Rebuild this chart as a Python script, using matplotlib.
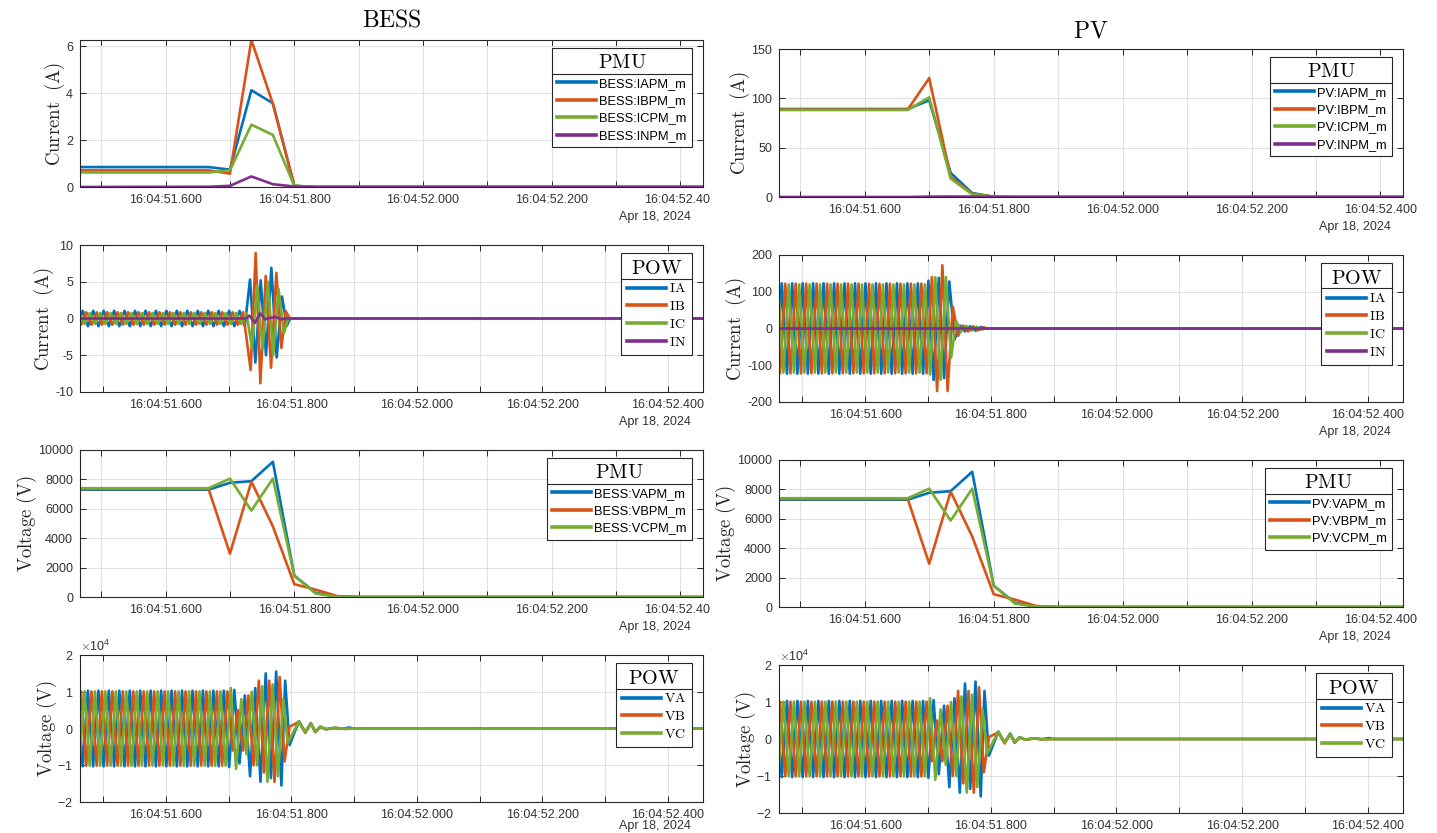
import numpy as np
import matplotlib
matplotlib.use("Agg")
import matplotlib.pyplot as plt
from matplotlib.lines import Line2D
from matplotlib.transforms import Bbox, TransformedBbox

plt.rcParams['font.family'] = ['Liberation Sans', 'DejaVu Sans']
plt.rcParams['mathtext.fontset'] = 'cm'
plt.rcParams['axes.unicode_minus'] = False

# ---------------------------------------------------------------- data
X_TICKS = [51.5, 51.6, 51.7, 51.8, 51.9, 52.0, 52.1, 52.2, 52.3, 52.4]
X_TICK_LABELS = ['', '16:04:51.600', '', '16:04:51.800', '', '16:04:52.000',
                 '', '16:04:52.200', '', '16:04:52.400']
DATE_LABEL = 'Apr 18, 2024'
XLIM_PMU = (51.467, 52.435)   # seconds after 16:04
XLIM_POW = (51.463, 52.456)
HALF_CYCLE = 1.0 / 120.0      # 60 Hz system

# PMU reporting instants (s after 16:04)
PMU_T = [51.4667, 51.6667, 51.7, 51.7333, 51.7667, 51.8, 51.8333, 51.8667, 51.9, 52.5]

BESS_IAPM = [0.85, 0.85, 0.74, 4.13, 3.57, 0.05, 0, 0, 0, 0]
BESS_IBPM = [0.71, 0.71, 0.57, 6.27, 3.55, 0.05, 0, 0, 0, 0]
BESS_ICPM = [0.62, 0.62, 0.71, 2.66, 2.22, 0.05, 0, 0, 0, 0]
BESS_INPM = [0.0, 0.01, 0.05, 0.45, 0.12, 0.02, 0, 0, 0, 0]

PV_IAPM = [89.2, 89.2, 98.0, 24.4, 4.0, 0.3, 0, 0, 0, 0]
PV_IBPM = [88.6, 88.6, 120.5, 20.4, 3.4, 0.3, 0, 0, 0, 0]
PV_ICPM = [88.2, 88.2, 101.0, 18.7, 2.7, 0.3, 0, 0, 0, 0]
PV_INPM = [0.0, 0.0, 0.4, 0.5, 0.4, 0.1, 0, 0, 0, 0]

BESS_VAPM = [7300, 7300, 7770, 7880, 9200, 1450, 280, 30, 0, 0]
BESS_VBPM = [7350, 7350, 2950, 7850, 4800, 870, 500, 60, 0, 0]
BESS_VCPM = [7400, 7400, 8050, 5880, 8050, 1450, 230, 20, 0, 0]
PV_VAPM = [7300, 7300, 7770, 7880, 9200, 1450, 280, 30, 0, 0]
PV_VBPM = [7350, 7350, 2950, 7850, 4800, 870, 500, 60, 0, 0]
PV_VCPM = [7400, 7400, 8050, 5880, 8050, 1450, 230, 20, 0, 0]

# point-on-wave: (steady peak amplitude, time of last steady peak,
#                 fault peak times, fault peak values)
BESS_IA = (1.05, 51.7257,
           [51.734, 51.7425, 51.751, 51.7595, 51.768, 51.7765, 51.785, 51.7925, 51.798],
           [5.3, -6.0, 5.2, -5.0, 6.9, -5.3, 3.0, -1.0, 0.0])
BESS_IB = (0.85, 51.7230,
           [51.735, 51.743, 51.7505, 51.759, 51.7675, 51.776, 51.784, 51.791, 51.797],
           [-7.0, 8.9, -8.8, 5.8, -6.7, 6.2, -4.0, 1.0, 0.0])
BESS_IC = (0.75, 51.7285,
           [51.737, 51.7455, 51.754, 51.7625, 51.771, 51.7795, 51.788, 51.795],
           [-4.0, 4.5, -4.2, 5.0, -5.0, 4.0, -2.0, 0.0])
BESS_IN_T = [51.40, 51.728, 51.733, 51.742, 51.750, 51.758, 51.767, 51.775, 51.783, 51.79, 52.5]
BESS_IN_V = [0.0, 0.0, 0.4, -0.6, 0.7, -0.1, 0.1, 0.2, -0.1, 0.0, 0.0]

PV_IA = (123, 51.6923,
         [51.7007, 51.709, 51.7173, 51.7257, 51.734, 51.7423, 51.751, 51.759, 51.767, 51.776, 51.784, 51.792],
         [130, -140, 138, -135, 128, -30, 8, -8, 6, -6, 4, 0])
PV_IB = (122, 51.6979,
         [51.7063, 51.7146, 51.723, 51.7313, 51.7396, 51.748, 51.756, 51.764, 51.772, 51.780, 51.788, 51.795],
         [140, -170, 172, -170, 60, -20, 8, -8, 6, -5, 3, 0])
PV_IC = (120, 51.6951,
         [51.7035, 51.7118, 51.7201, 51.7285, 51.7368, 51.745, 51.753, 51.761, 51.769, 51.777, 51.785, 51.792],
         [-125, 140, -140, 140, -80, 20, -8, 7, -6, 5, -3, 0])
PV_IN_T = [51.40, 52.5]
PV_IN_V = [0.0, 0.0]

BESS_VA = (10300, 51.6923,
           [51.7007, 51.709, 51.7173, 51.7257, 51.734, 51.7423, 51.7507, 51.759, 51.7673, 51.7757,
            51.784, 51.790, 51.797, 51.812, 51.822, 51.831, 51.838, 51.846, 51.855, 51.868, 51.880, 51.892, 51.90],
           [-10500, 10500, -9500, 9000, -13000, 11000, -14500, 15000, -13500, 15500,
            -15500, 13000, -4500, 2000, -1000, 1500, -1000, 500, -200, 200, -100, 250, 0])
BESS_VB = (10100, 51.6979,
           [51.7063, 51.7146, 51.723, 51.7313, 51.7396, 51.748, 51.7563, 51.7646, 51.773, 51.7813,
            51.789, 51.797, 51.812, 51.822, 51.831, 51.838, 51.846, 51.855, 51.87, 51.885, 51.90],
           [-6000, 5000, -6000, 9000, -10000, 13000, -12000, 13000, -14500, 14000,
            -9000, 500, 1800, -1200, 1300, -900, 400, -200, 150, -100, 0])
BESS_VC = (10100, 51.6951,
           [51.7034, 51.7118, 51.7201, 51.7284, 51.7368, 51.7451, 51.7534, 51.7618, 51.7701, 51.7784,
            51.787, 51.794, 51.812, 51.822, 51.831, 51.838, 51.846, 51.855, 51.87, 51.885, 51.90],
           [11000, -11000, 8000, -7000, 10000, -10000, 11500, -14500, 12000, -13000,
            8000, -4000, 2000, -1000, 1400, -900, 500, -200, 200, -100, 0])
PV_VA = BESS_VA   # PV terminal sees the same bus voltage waveform
PV_VB = BESS_VB
PV_VC = BESS_VC

# ---------------------------------------------------------------- style
C_A, C_B, C_C, C_N = '#0072BD', '#D95319', '#77AC30', '#7E2F8E'
AX_COL = '#262626'
LW = 1.9
W, H = 1437, 833

fig = plt.figure(figsize=(W / 100, H / 100), dpi=100)

LEFT = (80, 623)
RIGHT = (779, 624)
LEFT_ROWS = [(40, 187), (245, 392), (450, 597), (655, 802)]
RIGHT_ROWS = [(49, 197), (255, 402), (460, 607), (665, 813)]


def make_ax(col, row):
    x0, w = col
    top, bot = row
    return fig.add_axes([x0 / W, 1 - bot / H, w / W, (bot - top) / H])


def pow_wave(series, t_start, t_end):
    amp, steady_end, ft, fv = series
    n = int(np.ceil((steady_end - t_start) / HALF_CYCLE)) + 1
    k = np.arange(n, -1, -1)
    t_st = steady_end - k * HALF_CYCLE
    sign_last = -np.sign(fv[0])
    v_st = amp * sign_last * (-1.0) ** k
    t = np.concatenate([t_st, ft, [t_end]])
    v = np.concatenate([v_st, fv, [0.0]])
    return t, v


def style(ax, xlim, ylim, yticks, ylabel, date_dy=30):
    ax.set_xlim(*xlim)
    ax.set_ylim(*ylim)
    ax.set_xticks(X_TICKS, X_TICK_LABELS)
    ax.set_yticks(yticks)
    ax.grid(True, color='#e1e1e1', lw=0.8)
    ax.set_axisbelow(True)
    ax.tick_params(direction='in', top=True, right=True, length=4, width=0.7,
                   color=AX_COL, labelsize=9, labelcolor='#333333', pad=5)
    for s in ax.spines.values():
        s.set_color(AX_COL)
        s.set_linewidth(0.8)
    ax.set_ylabel(ylabel, fontsize=13.5, color='#262626', labelpad=-1)
    if date_dy is not None:
        hpx = ax.get_position().height * H
        ax.text(0.981, -date_dy / hpx, DATE_LABEL, transform=ax.transAxes, ha='right',
                va='center', fontsize=9, color='#333333')


legends = []


def add_legend(ax, labels, title, serif_entries):
    pos = ax.get_position()
    ax_px_right = pos.x1 * W
    rx = (ax_px_right - 11 - pos.x0 * W) / (pos.width * W)
    ty = 1 - 8 / (pos.height * H)
    handles = ax.get_lines()[:len(labels)]
    leg = ax.legend(handles, labels, loc='upper right', bbox_to_anchor=(rx, ty),
                    bbox_transform=ax.transAxes, borderaxespad=0, fancybox=False,
                    edgecolor=AX_COL, framealpha=1, facecolor='white',
                    fontsize=10 if serif_entries else 9.3,
                    title=title, title_fontsize=14.5,
                    handlelength=2.8 if serif_entries else 3.0,
                    handletextpad=0.25, labelspacing=0.28 if serif_entries else 0.42,
                    borderpad=0.4)
    leg.get_frame().set_linewidth(0.8)
    for ln in leg.get_lines():
        ln.set_linewidth(2.6)
    legends.append(leg)


def pmu_plot(ax, series, colors):
    for s, c in zip(series, colors):
        ax.plot(PMU_T, s, color=c, lw=LW)


def pow_plot(ax, series, colors, xlim):
    for s, c in zip(series, colors):
        t, v = pow_wave(s, xlim[0] - 0.01, 52.5)
        ax.plot(t, v, color=c, lw=LW)


LBL_I = r'$\mathrm{Current\ \ (A)}$'
LBL_V = r'$\mathrm{Voltage\ (V)}$'

# ---------------- BESS column
ax = make_ax(LEFT, LEFT_ROWS[0])
pmu_plot(ax, [BESS_IAPM, BESS_IBPM, BESS_ICPM, BESS_INPM], [C_A, C_B, C_C, C_N])
style(ax, XLIM_PMU, (0, 6.27), [0, 2, 4, 6], LBL_I)
ax.set_title(r'$\mathrm{BESS}$', fontsize=17, pad=10)
add_legend(ax, ['BESS:IAPM_m', 'BESS:IBPM_m', 'BESS:ICPM_m', 'BESS:INPM_m'], r'$\mathrm{PMU}$', False)
ax_b1 = ax

ax = make_ax(LEFT, LEFT_ROWS[1])
pow_plot(ax, [BESS_IA, BESS_IB, BESS_IC], [C_A, C_B, C_C], XLIM_POW)
ax.plot(BESS_IN_T, BESS_IN_V, color=C_N, lw=LW)
style(ax, XLIM_POW, (-10, 10), [-10, -5, 0, 5, 10], LBL_I)
add_legend(ax, [r'$\mathrm{IA}$', r'$\mathrm{IB}$', r'$\mathrm{IC}$', r'$\mathrm{IN}$'], r'$\mathrm{POW}$', True)

ax = make_ax(LEFT, LEFT_ROWS[2])
pmu_plot(ax, [BESS_VAPM, BESS_VBPM, BESS_VCPM], [C_A, C_B, C_C])
style(ax, XLIM_PMU, (0, 10000), [0, 2000, 4000, 6000, 8000, 10000], LBL_V)
add_legend(ax, ['BESS:VAPM_m', 'BESS:VBPM_m', 'BESS:VCPM_m'], r'$\mathrm{PMU}$', False)
ax_b3 = ax

ax = make_ax(LEFT, LEFT_ROWS[3])
pow_plot(ax, [BESS_VA, BESS_VB, BESS_VC], [C_A, C_B, C_C], XLIM_POW)
style(ax, XLIM_POW, (-20000, 20000), [-20000, -10000, 0, 10000, 20000], LBL_V, date_dy=24)
ax.ticklabel_format(axis='y', style='sci', scilimits=(0, 0), useMathText=True)
ax.yaxis.get_offset_text().set_fontsize(9)
ax.yaxis.get_offset_text().set_color('#333333')
add_legend(ax, [r'$\mathrm{VA}$', r'$\mathrm{VB}$', r'$\mathrm{VC}$'], r'$\mathrm{POW}$', True)

# ---------------- PV column
ax = make_ax(RIGHT, RIGHT_ROWS[0])
pmu_plot(ax, [PV_IAPM, PV_IBPM, PV_ICPM, PV_INPM], [C_A, C_B, C_C, C_N])
style(ax, XLIM_PMU, (0, 150), [0, 50, 100, 150], LBL_I)
ax.set_title(r'$\mathrm{PV}$', fontsize=17, pad=8)
add_legend(ax, ['PV:IAPM_m', 'PV:IBPM_m', 'PV:ICPM_m', 'PV:INPM_m'], r'$\mathrm{PMU}$', False)

ax = make_ax(RIGHT, RIGHT_ROWS[1])
pow_plot(ax, [PV_IA, PV_IB, PV_IC], [C_A, C_B, C_C], XLIM_POW)
ax.plot(PV_IN_T, PV_IN_V, color=C_N, lw=LW)
style(ax, XLIM_POW, (-200, 200), [-200, -100, 0, 100, 200], LBL_I)
add_legend(ax, [r'$\mathrm{IA}$', r'$\mathrm{IB}$', r'$\mathrm{IC}$', r'$\mathrm{IN}$'], r'$\mathrm{POW}$', True)

ax = make_ax(RIGHT, RIGHT_ROWS[2])
pmu_plot(ax, [PV_VAPM, PV_VBPM, PV_VCPM], [C_A, C_B, C_C])
style(ax, XLIM_PMU, (0, 10000), [0, 2000, 4000, 6000, 8000, 10000], LBL_V)
add_legend(ax, ['PV:VAPM_m', 'PV:VBPM_m', 'PV:VCPM_m'], r'$\mathrm{PMU}$', False)

ax = make_ax(RIGHT, RIGHT_ROWS[3])
pow_plot(ax, [PV_VA, PV_VB, PV_VC], [C_A, C_B, C_C], XLIM_POW)
style(ax, XLIM_POW, (-20000, 20000), [-20000, -10000, 0, 10000, 20000], LBL_V, date_dy=None)
ax.ticklabel_format(axis='y', style='sci', scilimits=(0, 0), useMathText=True)
ax.yaxis.get_offset_text().set_fontsize(9)
ax.yaxis.get_offset_text().set_color('#333333')
add_legend(ax, [r'$\mathrm{VA}$', r'$\mathrm{VB}$', r'$\mathrm{VC}$'], r'$\mathrm{POW}$', True)

# ---------------- legend title separators (MATLAB-style title box)
fig.canvas.draw()
renderer = fig.canvas.get_renderer()
inv = fig.transFigure.inverted()
for leg in legends:
    lb = leg.get_window_extent(renderer)
    tb = leg.get_title().get_window_extent(renderer)
    eb = leg.get_texts()[0].get_window_extent(renderer)
    y = (tb.y0 + eb.y1) / 2 + 1
    (fx0, fy), (fx1, _) = inv.transform([(lb.x0, y), (lb.x1, y)])
    fig.add_artist(Line2D([fx0, fx1], [fy, fy], color=AX_COL, lw=0.8))

# screenshot crop of the BESS panels just right of the axes (rows 1 and 3)
clip = TransformedBbox(Bbox([[0, 0], [710 / W, 1]]), fig.transFigure)
for a in (ax_b1, ax_b3):
    for lbl in a.xaxis.get_ticklabels():
        lbl.set_clip_on(True)
        lbl.set_clip_box(clip)

fig.savefig('out.png', dpi=100, facecolor='white')
